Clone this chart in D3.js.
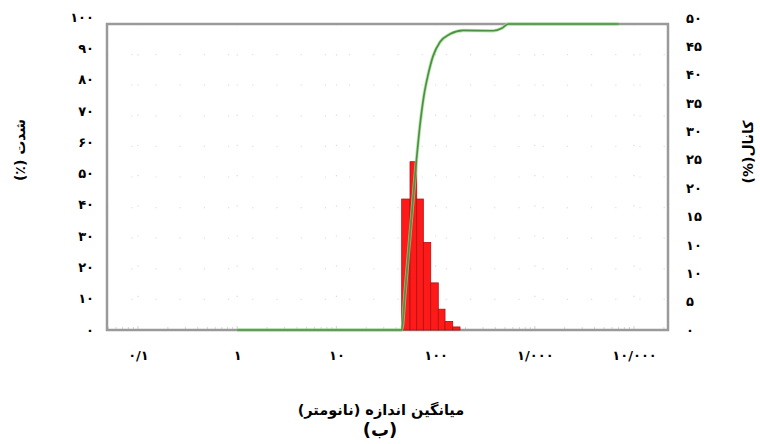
<!DOCTYPE html>
<html><head><meta charset="utf-8">
<script src="https://cdn.jsdelivr.net/npm/d3@7"></script>
<style>body{margin:0;background:#fff}text{font-family:"DejaVu Sans",sans-serif}</style>
</head><body><svg id="c" width="760" height="444"></svg>
<script>
// ---- data ----
const xTickValues = [0.1, 1, 10, 100, 1000, 10000];
const xTickLabels = ["۰/۱", "۱", "۱۰", "۱۰۰", "۱/۰۰۰", "۱۰/۰۰۰"];
const leftTickValues = [0,10,20,30,40,50,60,70,80,90,100];
const leftTickLabels = ["۰","۱۰","۲۰","۳۰","۴۰","۵۰","۶۰","۷۰","۸۰","۹۰","۱۰۰"];
const rightTickLabels = ["۰","۵","۱۰","۱۰","۱۵","۲۰","۲۵","۳۰","۳۵","۴۰","۴۵","۵۰"];
const binEdges = [45.5, 55.2, 64.5, 75.2, 89.3, 106.4, 124.4, 148.7, 176.2];
const channelValues = [21.4, 27.5, 21.4, 14.3, 7.7, 3.4, 1.4, 0.5];
const cumSizes = [1, 45.5, 49.2, 55.2, 63.4, 69.6, 76.4, 83.8, 94.2, 110.7, 139.7, 190, 382, 464, 541, 7000];
const cumValues = [0, 0, 12.4, 31, 53.9, 67, 76.8, 83.3, 89.5, 94.1, 96.7, 97.9, 97.8, 98.6, 100, 100];
const xTitle = "میانگین اندازه (نانومتر)";
const subTitle = "(ب)";
const leftTitle = "شدت (٪)";
const rightTitle = "کانال(%)";

// ---- layout ----
const L = 107, R = 668, T = 24, B = 330;
const svg = d3.select("#c");
const x = d3.scaleLog().domain([0.0487, 22000]).range([L, R]);
const yL = d3.scaleLinear().domain([0, 100]).range([B, T]);
const yR = d3.scaleLinear().domain([0, 50]).range([B, T]);
const yLLab = d3.scaleLinear().domain([0, 100]).range([330, 17]);
const yRLab = d3.scalePoint().domain(d3.range(rightTickLabels.length)).range([330, 18]);

// faint dotted grid
const g = svg.append("g");
g.selectAll("line.v").data(xTickValues).join("line")
  .attr("x1", d => x(d)).attr("x2", d => x(d)).attr("y1", T).attr("y2", B)
  .attr("stroke", "#dadada").attr("stroke-width", 1.2).attr("stroke-dasharray", "1.2,29");
g.selectAll("line.h").data(leftTickValues.slice(1, -1)).join("line")
  .attr("x1", L).attr("x2", R).attr("y1", d => yL(d)).attr("y2", d => yL(d))
  .attr("stroke", "#e0e0e0").attr("stroke-width", 1.2).attr("stroke-dasharray", "1.2,23");

// minor ticks along bottom
const minor = [];
for (let e = -2; e <= 4; e++) for (let k = 1; k <= 9; k++) { const v = k * Math.pow(10, e); if (v > 0.0487 && v < 22000) minor.push(v); }
g.selectAll("line.m").data(minor).join("line")
  .attr("x1", d => x(d)).attr("x2", d => x(d)).attr("y1", B - 3).attr("y2", B)
  .attr("stroke", "#d6d6d6").attr("stroke-width", 1);

// frame
svg.append("rect").attr("x", L).attr("y", T).attr("width", R - L).attr("height", B - T)
  .attr("fill", "none").attr("stroke", "#9a9a9a").attr("stroke-width", 2.5);

// bars
svg.append("g").selectAll("rect").data(channelValues).join("rect")
  .attr("x", (d, i) => x(binEdges[i]))
  .attr("width", (d, i) => x(binEdges[i + 1]) - x(binEdges[i]))
  .attr("y", d => yR(d)).attr("height", d => B - yR(d))
  .attr("fill", "#ff1a1a").attr("stroke", "#b01010").attr("stroke-width", 0.8);

// cumulative curve
const pts = cumSizes.map((s, i) => [x(s), yL(cumValues[i])]);
const line = d3.line().curve(d3.curveMonotoneX);
svg.append("path").attr("d", line(pts)).attr("fill", "none")
  .attr("stroke", "#9be08e").attr("stroke-width", 3.4).attr("opacity", 0.7);
svg.append("path").attr("d", line(pts)).attr("fill", "none")
  .attr("stroke", "#4f8f45").attr("stroke-width", 1.7);

// tick labels
const axisStyle = sel => { sel.select(".domain").remove(); sel.selectAll(".tick line").remove();
  sel.selectAll("text").attr("font-size", 13).attr("font-weight", "bold").attr("fill", "#000").style("font-family", "DejaVu Sans"); };
svg.append("g").attr("transform", `translate(94,0)`)
  .call(d3.axisLeft(yLLab).tickValues(leftTickValues).tickFormat((d, i) => leftTickLabels[i]).tickSize(0).tickPadding(0))
  .call(axisStyle);
svg.append("g").attr("transform", `translate(686,0)`)
  .call(d3.axisRight(yRLab).tickFormat(i => rightTickLabels[i]).tickSize(0).tickPadding(0))
  .call(axisStyle);
svg.append("g").attr("transform", `translate(0,351)`)
  .call(d3.axisBottom(x).tickValues(xTickValues).tickFormat((d, i) => xTickLabels[i]).tickSize(0).tickPadding(0))
  .call(axisStyle);

// titles
svg.append("text").attr("x", 381).attr("y", 415).attr("text-anchor", "middle")
  .attr("direction", "rtl").attr("font-size", 14.5).attr("font-weight", "bold").text(xTitle);
svg.append("text").attr("x", 380).attr("y", 436).attr("text-anchor", "middle")
  .attr("direction", "rtl").attr("font-size", 18).attr("font-weight", "bold").text(subTitle);
svg.append("text").attr("transform", "translate(25,150) rotate(-90)").attr("text-anchor", "middle")
  .attr("direction", "rtl").attr("font-size", 14).attr("font-weight", "bold").text(leftTitle);
svg.append("text").attr("transform", "translate(753,152) rotate(-90)").attr("text-anchor", "middle")
  .attr("direction", "rtl").attr("font-size", 14).attr("font-weight", "bold").text(rightTitle);
</script></body></html>
